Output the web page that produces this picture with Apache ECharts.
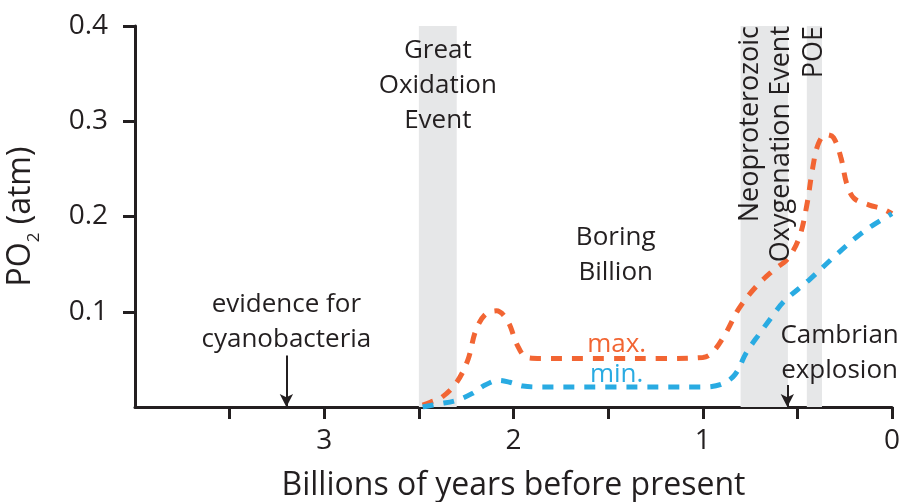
<!DOCTYPE html>
<html>
<head>
<meta charset="utf-8">
<script src="https://cdn.jsdelivr.net/npm/echarts@6/dist/echarts.min.js"></script>
<style>
  html, body { margin: 0; padding: 0; background: #fff; }
  #chart { width: 901px; height: 502px; }
</style>
</head>
<body>
<div id="chart"></div>
<script>
// Atmospheric oxygen through Earth history (billions of years before present)
const maxAge = [2.48, 2.44, 2.38, 2.30, 2.24, 2.20, 2.15, 2.09, 2.03, 1.98, 1.93, 1.85, 1.50, 1.20, 1.00, 0.95, 0.88, 0.81, 0.72, 0.63, 0.55, 0.49, 0.45, 0.42, 0.39, 0.35, 0.31, 0.27, 0.24, 0.20, 0.12, 0.05, 0.00];
const maxPO2 = [0.002, 0.005, 0.010, 0.026, 0.050, 0.080, 0.097, 0.101, 0.090, 0.065, 0.052, 0.051, 0.051, 0.051, 0.052, 0.057, 0.077, 0.103, 0.126, 0.143, 0.156, 0.178, 0.212, 0.250, 0.276, 0.286, 0.283, 0.262, 0.235, 0.219, 0.212, 0.208, 0.203];

const minAge = [2.48, 2.40, 2.30, 2.22, 2.15, 2.08, 2.02, 1.95, 1.85, 1.50, 1.00, 0.90, 0.83, 0.77, 0.70, 0.63, 0.57, 0.44, 0.31, 0.19, 0.10, 0.00];
const minPO2 = [0.000, 0.003, 0.007, 0.014, 0.023, 0.028, 0.026, 0.022, 0.021, 0.021, 0.021, 0.024, 0.034, 0.057, 0.077, 0.096, 0.111, 0.133, 0.157, 0.178, 0.191, 0.203];

// Oxygenation intervals [from, to] in Ga
const bands = [[2.5, 2.3], [0.8, 0.55], [0.45, 0.37]];

const xTicks = [0, 0.5, 1, 1.5, 2, 2.5, 3, 3.5];
const xTickLabels = [0, 1, 2, 3];
const yTicks = [0.1, 0.2, 0.3, 0.4];

// Text annotations anchored in data coordinates
const notes = [
  { text: 'Great\nOxidation\nEvent', age: 2.4, po2: 0.337 },
  { text: 'Boring\nBillion', age: 1.46, po2: 0.159 },
  { text: 'evidence for\ncyanobacteria', age: 3.2, po2: 0.0895 },
  { text: 'Cambrian\nexplosion', age: 0.277, po2: 0.0564 }
];
const seriesNotes = [
  { text: 'max.', age: 1.455, po2: 0.066, color: '#f26533' },
  { text: 'min.', age: 1.455, po2: 0.0345, color: '#29abe2' }
];
const verticalNotes = [
  { text: 'Neoproterozoic', age: 0.75, po2: 0.4 },
  { text: 'Oxygenation Event', age: 0.585, po2: 0.4 },
  { text: 'POE', age: 0.41, po2: 0.4 }
];
const arrows = [
  { age: 3.2, from: 0.054, to: 0.0 },
  { age: 0.553, from: 0.023, to: 0.0 }
];

const FONT = 'Open Sans';
const INK = '#231f20';

const pair = (xs, ys) => xs.map((x, i) => [x, ys[i]]);

const chart = echarts.init(document.getElementById('chart'), null, { renderer: 'canvas' });

const noteLabel = (size, color) => ({
  show: true, position: 'inside', fontFamily: FONT, fontSize: size,
  color: color, lineHeight: 35, align: 'center', verticalAlign: 'middle'
});

chart.setOption({
  animation: false,
  backgroundColor: '#fff',
  grid: { left: 135, right: 9, top: 26, bottom: 95, outerBoundsMode: 'none', containLabel: false },
  xAxis: {
    type: 'value', inverse: true, min: 0, max: 4, interval: 0.5,
    name: 'Billions of years before present', nameLocation: 'middle', nameGap: 63,
    nameTextStyle: { fontFamily: FONT, fontSize: 32, color: INK },
    axisLine: { onZero: false, lineStyle: { color: INK, width: 3 } },
    axisTick: { length: 12, customValues: xTicks, lineStyle: { color: INK, width: 3 } },
    axisLabel: { customValues: xTickLabels, fontFamily: FONT, fontSize: 28, color: INK, margin: 20 },
    splitLine: { show: false }
  },
  yAxis: {
    type: 'value', position: 'left', min: 0, max: 0.4, interval: 0.1,
    name: '{a|PO}{s|2}{a| (atm)}', nameLocation: 'middle', nameGap: 92,
    nameTextStyle: {
      fontFamily: FONT, color: INK,
      rich: {
        a: { fontFamily: FONT, fontSize: 32, color: INK, lineHeight: 44, verticalAlign: 'middle' },
        s: { fontFamily: FONT, fontSize: 17, color: INK, lineHeight: 16, verticalAlign: 'bottom' }
      }
    },
    axisLine: { show: true, onZero: false, lineStyle: { color: INK, width: 3 } },
    axisTick: { show: true, length: 12, customValues: yTicks, lineStyle: { color: INK, width: 3 } },
    axisLabel: { customValues: yTicks, fontFamily: FONT, fontSize: 28, color: INK, margin: 27,
      formatter: v => v.toFixed(1) },
    splitLine: { show: false }
  },
  series: [
    {
      // shaded oxygenation events plus all text notes
      type: 'line', data: [], z: 1, silent: true,
      markArea: {
        silent: true,
        itemStyle: { color: '#e6e7e8' },
        data: bands.map(b => [{ xAxis: b[0] }, { xAxis: b[1] }])
      },
      markPoint: {
        silent: true, symbol: 'circle', symbolSize: 1, itemStyle: { color: 'rgba(0,0,0,0)' },
        data: [
          ...notes.map(n => ({ coord: [n.age, n.po2], label: noteLabel(26, INK), value: n.text })),
          ...seriesNotes.map(n => ({ coord: [n.age, n.po2], label: noteLabel(26, n.color), value: n.text })),
          ...verticalNotes.map(n => ({
            coord: [n.age, n.po2], value: n.text,
            label: { show: true, position: 'inside', fontFamily: FONT, fontSize: 27, color: INK,
              rotate: 90, align: 'right', verticalAlign: 'middle' }
          }))
        ],
        label: { formatter: p => p.value }
      },
      markLine: {
        silent: true, symbol: ['none', 'arrow'], symbolSize: [10, 13],
        lineStyle: { color: INK, width: 2, type: 'solid' },
        label: { show: false },
        data: arrows.map(a => [{ coord: [a.age, a.from] }, { coord: [a.age, a.to] }])
      }
    },
    {
      name: 'max.', type: 'line', z: 3, smooth: 0.35, showSymbol: false, symbol: 'none',
      data: pair(maxAge, maxPO2),
      lineStyle: { color: '#f26533', width: 5, type: [11, 10], cap: 'butt' }
    },
    {
      name: 'min.', type: 'line', z: 3, smooth: 0.35, showSymbol: false, symbol: 'none',
      data: pair(minAge, minPO2),
      lineStyle: { color: '#29abe2', width: 5, type: [11, 10], cap: 'butt' }
    }
  ]
});
</script>
</body>
</html>
